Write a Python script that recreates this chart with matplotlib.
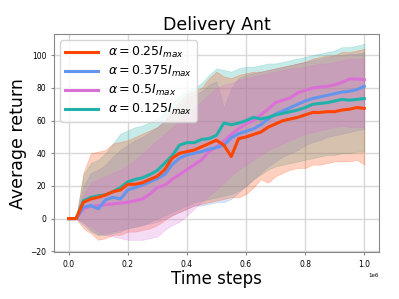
import numpy as np
import matplotlib.pyplot as plt

# time steps (x1e6)
steps = [0.0, 0.025, 0.05, 0.075, 0.1, 0.125, 0.15, 0.175, 0.2, 0.225, 0.25,
         0.275, 0.3, 0.325, 0.35, 0.375, 0.4, 0.425, 0.45, 0.475, 0.5,
         0.525, 0.55, 0.575, 0.6, 0.625, 0.65, 0.675, 0.7, 0.725, 0.75,
         0.775, 0.8, 0.825, 0.85, 0.875, 0.9, 0.925, 0.95, 0.975, 1.0]

# alpha = 0.25 I_max
a025_mean = [0, 0, 10, 12, 13, 14.5, 16.5, 17.5, 21, 21, 22,
             24, 26, 30, 37, 40, 41, 42, 44, 46, 48,
             45, 38, 49, 50, 51.5, 53, 56, 58, 60, 61,
             62, 63.5, 65, 65, 65.5, 65.5, 66.5, 67, 68, 67.5]
a025_hi = [0, 0, 28, 40, 41, 42, 46, 47, 48, 50, 52,
           54, 56, 60, 66, 72, 76, 78, 80, 86, 90,
           87, 86, 88, 89, 90, 90, 91, 92, 93, 94,
           95, 96, 98, 99, 100, 100, 102, 102, 103, 104]
a025_lo = [0, 0, -6, -9, -13, -12, -10, -10, -8, -8, -7,
           -6, -4, -1, 2, 4, 6, 8, 9, 10, 11,
           12, 13, 13, 15, 19, 24, 22, 26, 28, 30,
           31, 31, 33, 33, 34, 35, 35, 35, 36, 33]

# alpha = 0.375 I_max
a0375_mean = [0, 0, 7, 8, 6, 11.5, 13, 12, 17.5, 19, 20.5,
              22.5, 24.5, 27, 33, 37, 39, 40, 41, 42.5, 43.5,
              45, 49.5, 52, 53.5, 55, 57.5, 61, 64, 66, 68,
              70, 72, 73.5, 74.5, 75.5, 76.5, 77.5, 78, 79, 81]
a0375_hi = [0, 0, 20, 28, 30, 33, 38, 42, 45, 48, 50,
            53, 56, 60, 65, 70, 73, 76, 78, 82, 84,
            68, 80, 86, 88, 89, 90, 91, 92, 93, 94,
            95, 96, 97, 98, 99, 100, 100, 101, 101, 102]
a0375_lo = [0, 0, -4, -8, -10, -9, -8, -7, -6, -5, -4,
            -3, -2, 0, 2, 4, 6, 8, 8, 9, 10,
            10, 12, 16, 20, 24, 28, 32, 35, 38, 40,
            42, 45, 47, 48, 50, 51, 52, 53, 54, 55]

# alpha = 0.5 I_max
a05_mean = [0, 0, 6, 7.5, 8, 8.5, 9, 9.5, 10, 11, 12,
            15, 19, 20.5, 24, 27, 30, 33, 36, 41, 44,
            47.5, 51.5, 55, 58, 60, 63.5, 67, 71, 72.5, 74,
            77, 78.5, 80, 80.5, 81, 82, 83.5, 85.5, 85.5, 85]
a05_hi = [0, 0, 15, 22, 24, 26, 28, 30, 33, 36, 40,
          44, 48, 52, 56, 60, 64, 68, 72, 76, 80,
          82, 83, 85, 86, 87, 88, 89, 90, 91, 92,
          92, 93, 94, 95, 95, 96, 97, 98, 98, 98]
a05_lo = [0, 0, -3, -5, -8, -10, -11, -12, -13, -13, -13,
          -12, -11, -7, -4, -2, 2, 6, 10, 14, 18,
          22, 26, 30, 33, 36, 39, 42, 44, 46, 48,
          50, 52, 53, 54, 55, 56, 57, 56, 56, 56]

# alpha = 0.125 I_max
a0125_mean = [0, 0, 11, 13, 14, 14.5, 16.5, 19, 22.5, 24, 25,
              27, 29.5, 34, 38.5, 45, 46.5, 46.5, 48.5, 49, 51,
              58.5, 57.5, 58.5, 60, 62, 61, 62, 63.5, 64.5, 65.5,
              66.5, 68, 70, 70.5, 71, 72, 73, 72.5, 73, 73.5]
a0125_hi = [0, 0, 27, 34, 36, 40, 46, 52, 54, 56, 57,
            59, 61, 66, 70, 75, 78, 80, 83, 88, 92,
            91, 90, 92, 93, 93, 94, 95, 95, 96, 97,
            98, 99, 100, 101, 102, 103, 105, 105, 106, 107]
a0125_lo = [0, 0, -2, -7, -10, -10, -9, -8, -6, -5, -4,
            -2, 0, 2, 4, 6, 8, 10, 11, 12, 13,
            14, 15, 17, 20, 24, 27, 30, 32, 33, 34,
            35, 36, 37, 38, 39, 39, 40, 40, 41, 41]

labels = [r'$\alpha = 0.25I_{max}$', r'$\alpha = 0.375I_{max}$',
          r'$\alpha = 0.5I_{max}$', r'$\alpha = 0.125I_{max}$']
colors = ['orangered', 'cornflowerblue', 'orchid', 'lightseagreen']

x = np.array(steps) * 1e6
series = [(a025_mean, a025_lo, a025_hi), (a0375_mean, a0375_lo, a0375_hi),
          (a05_mean, a05_lo, a05_hi), (a0125_mean, a0125_lo, a0125_hi)]

fig = plt.figure(figsize=(3.99, 2.99), dpi=100)
ax = fig.add_axes([0.135, 0.157, 0.815, 0.729])

# bands: teal, blue first, then orange, pink on top
for i in [3, 1, 0, 2]:
    m, lo, hi = series[i]
    ax.fill_between(x, lo, hi, color=colors[i], alpha=0.25, linewidth=0.5)

lines = {}
for i in [2, 1, 3, 0]:
    m = series[i][0]
    lines[i], = ax.plot(x, m, color=colors[i], lw=2.2, label=labels[i])

ax.legend(handles=[lines[i] for i in range(4)], loc='upper left',
          fontsize=9, handlelength=2.6, framealpha=0.8, borderpad=0.4,
          labelspacing=0.3)

ax.set_ylim(-20.5, 113)
ax.grid(True, color='#d8d8d8', lw=1)
ax.set_axisbelow(True)
for s in ax.spines.values():
    s.set_color('#888888')
ax.tick_params(labelsize=5.5, length=2, color='#888888')
ax.xaxis.get_offset_text().set_fontsize(4)

ax.set_title('Delivery Ant', fontsize=12.5, pad=3)
ax.set_xlabel('Time steps', fontsize=12, labelpad=1)
ax.set_ylabel('Average return', fontsize=12.5, labelpad=2)

fig.savefig('out.png', dpi=100)
